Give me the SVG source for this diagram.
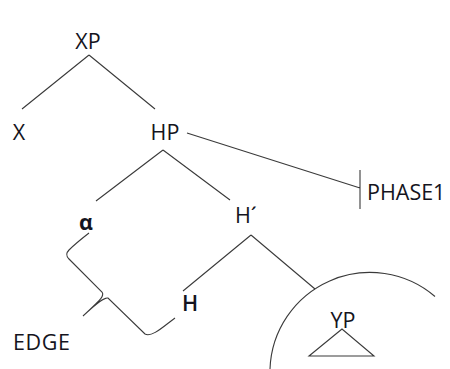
<svg xmlns="http://www.w3.org/2000/svg" width="450" height="369" viewBox="0 0 450 369">
<style>
.lbl{font-family:"Open Sans","Liberation Sans",sans-serif;font-size:21.5px;fill:#141420}
.ln{fill:none;stroke:#3a3a3a;stroke-width:1.1}
</style>
<rect width="450" height="369" fill="#ffffff"/>
<g id="connectors">
<path class="ln" d="M89 55 L22 109 M89 55 L155 109"/>
<path class="ln" d="M163 150 L96 201 M163 150 L230 200"/>
<path class="ln" d="M187 133 L360 188 M360 170 L360 209"/>
<path class="ln" d="M251 235 L183 291 M251 235 L315 289"/>
<path class="ln" d="M89 233 C80 240 73 246 69 250 C66 253 66 256 69 259 L102 292 C105 296 100 300 83 316 C93 307 103 297 108 298 L145 334 C152 338 165 325 175 318"/>
</g>
<g id="node-XP"><text class="lbl" x="88" y="49" text-anchor="middle">XP</text></g>
<g id="node-X"><text class="lbl" x="19" y="140" text-anchor="middle">X</text></g>
<g id="node-HP"><text class="lbl" x="165" y="140" text-anchor="middle">HP</text></g>
<g id="node-PHASE1"><text class="lbl" x="367" y="200">PHASE1</text></g>
<g id="node-Hbar"><text class="lbl" x="235" y="223">H´</text></g>
<g id="node-alpha"><text class="lbl" x="86" y="230" text-anchor="middle" font-weight="bold">α</text></g>
<g id="node-H"><text class="lbl" x="190" y="311" text-anchor="middle" font-weight="600">H</text></g>
<g id="node-EDGE"><text class="lbl" x="13" y="350" letter-spacing="0.6">EDGE</text></g>
<g id="node-YP">
<path class="ln" d="M270 369 A100 100 0 0 1 435 296.5"/>
<text class="lbl" x="343" y="328" text-anchor="middle">YP</text>
<path class="ln" d="M342 329 L309 356 L374 356 Z"/>
</g>
</svg>
